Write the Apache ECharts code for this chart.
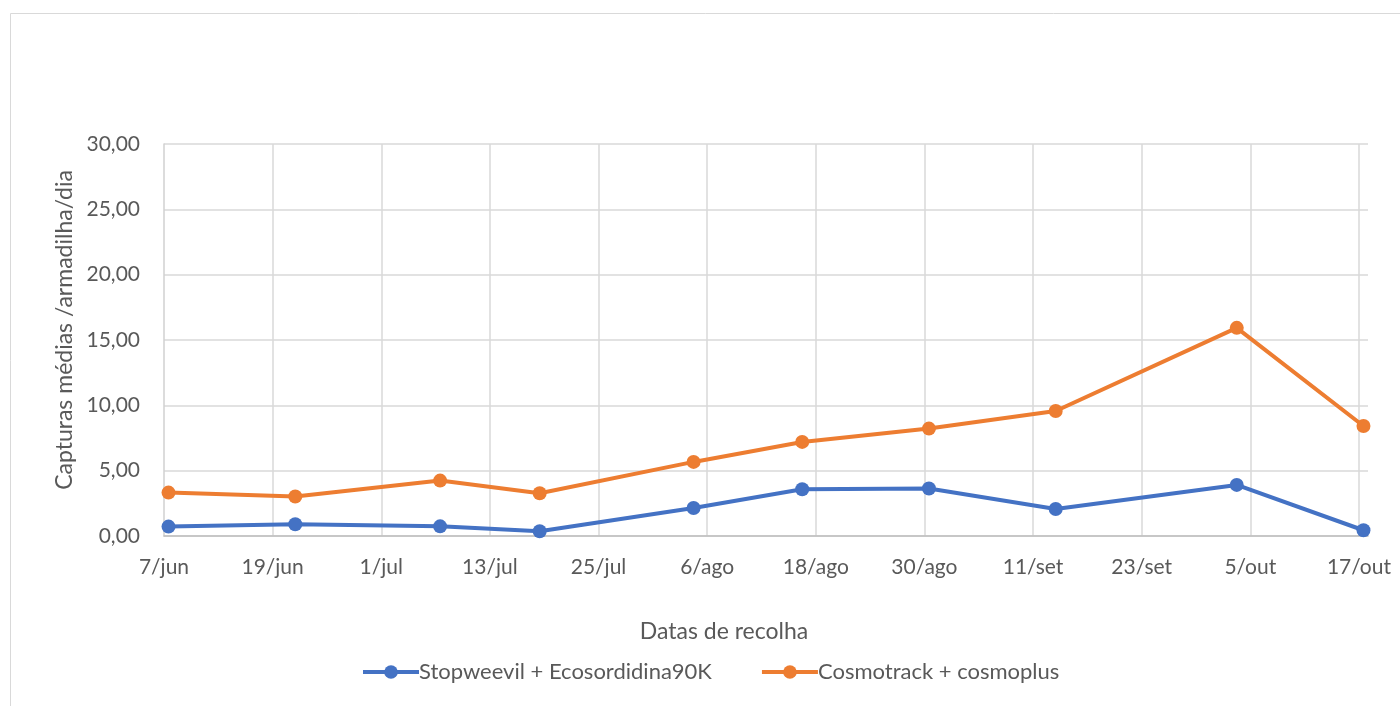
<!doctype html>
<html>

<head>
    <meta charset="utf-8">
    <title>Capturas médias</title>
    <script src="https://cdn.jsdelivr.net/npm/echarts@6/dist/echarts.min.js"></script>
    <style>
    html,
    body {
        margin: 0;
        padding: 0;
        background: #fff;
    }
    #main {
        width: 1400px;
        height: 706px;
    }
    </style>
</head>

<body>
    <div id="main"></div>
    <script>
    // datas de recolha
    var datas = ['2021-06-07', '2021-06-21', '2021-07-07', '2021-07-18', '2021-08-04',
        '2021-08-16', '2021-08-30', '2021-09-13', '2021-10-03', '2021-10-17'];
    var stopweevil = [0.72, 0.90, 0.74, 0.36, 2.14, 3.58, 3.63, 2.07, 3.91, 0.44];
    var cosmotrack = [3.32, 3.02, 4.24, 3.27, 5.67, 7.20, 8.22, 9.57, 15.93, 8.42];
    var tickLabels = ['7/jun', '19/jun', '1/jul', '13/jul', '25/jul', '6/ago',
        '18/ago', '30/ago', '11/set', '23/set', '5/out', '17/out'];

    var nomes = ['Stopweevil + Ecosordidina90K', 'Cosmotrack + cosmoplus'];
    var cores = ['#4472C4', '#ED7D31'];
    var fonte = 'Lato';
    var cinza = '#595959';

    /* dias desde 7/jun, ponto no meio do dia (eixo de datas do excel) */
    var inicio = Date.UTC(2021, 5, 7);
    function dia(s) {
        var p = s.split('-');
        return (Date.UTC(+p[0], +p[1] - 1, +p[2]) - inicio) / 86400000 + 0.5;
    }
    function pares(vals) {
        var out = [];
        for (var i = 0; i < datas.length; i++) {
            out.push([dia(datas[i]), vals[i]]);
        }
        return out;
    }
    function serie(i, vals) {
        return {
            name: nomes[i],
            type: 'line',
            data: pares(vals),
            symbol: 'circle',
            symbolSize: 14,
            clip: false,
            itemStyle: { color: cores[i] },
            lineStyle: { color: cores[i], width: 4 }
        };
    }

    var chart = echarts.init(document.getElementById('main'));
    chart.setOption({
        animation: false,
        graphic: [{
            type: 'rect',
            left: 8,
            top: 11,
            shape: { width: 1420, height: 720 },
            style: { fill: 'none', stroke: '#D9D9D9', lineWidth: 1 }
        }],
        grid: { left: 164, top: 144, right: 32, bottom: 170 },
        legend: {
            top: 656,
            left: 356,
            itemWidth: 56,
            itemHeight: 17,
            itemGap: 48,
            lineStyle: { width: 4 },
            textStyle: { color: cinza, fontSize: 22, fontFamily: fonte, padding: [0, 0, 0, -5] },
            data: nomes
        },
        xAxis: {
            type: 'value',
            min: 0,
            max: 133,
            interval: 12,
            name: 'Datas de recolha',
            nameLocation: 'middle',
            nameGap: 84,
            nameTextStyle: { color: cinza, fontSize: 23, fontFamily: fonte, padding: [0, 84, 0, 0] },
            axisLine: { show: true, lineStyle: { color: '#BFBFBF', width: 1.5 } },
            axisTick: { show: false },
            axisLabel: {
                color: cinza,
                fontSize: 21,
                fontFamily: fonte,
                margin: 21,
                showMaxLabel: false,
                formatter: function(v) {
                    return v % 12 === 0 ? tickLabels[v / 12] : '';
                }
            },
            splitLine: { show: true, showMinLine: false, showMaxLine: false, lineStyle: { color: '#D9D9D9', width: 1.5 } }
        },
        yAxis: {
            type: 'value',
            min: 0,
            max: 30,
            interval: 5,
            name: 'Capturas médias /armadilha/dia',
            nameLocation: 'middle',
            nameGap: 88,
            nameTextStyle: { color: cinza, fontSize: 23, fontFamily: fonte, padding: [0, 0, 0, 20] },
            axisLine: { show: true, lineStyle: { color: '#D0D0D0', width: 1.5 } },
            axisTick: { show: false },
            axisLabel: {
                color: cinza,
                fontSize: 21,
                fontFamily: fonte,
                margin: 24,
                formatter: function(v) {
                    return v.toFixed(2).replace('.', ',');
                }
            },
            splitLine: { show: true, lineStyle: { color: '#D9D9D9', width: 1.5 } }
        },
        series: [serie(0, stopweevil), serie(1, cosmotrack)]
    });
    </script>
</body>

</html>
